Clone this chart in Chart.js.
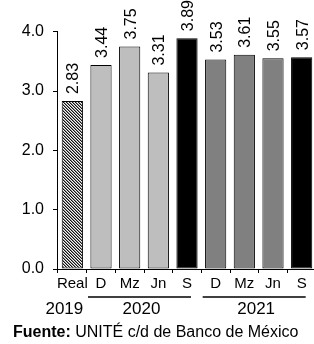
<!DOCTYPE html>
<html>
<head>
<meta charset="utf-8">
<script src="https://cdn.jsdelivr.net/npm/chart.js@4"></script>
<style>
html, body { margin: 0; padding: 0; overflow: hidden; background: #fff; }
</style>
</head>
<body>
<canvas id="chart" width="318" height="344"></canvas>
<script>
var categories = ['Real', 'D', 'Mz', 'Jn', 'S', 'D', 'Mz', 'Jn', 'S'];
var values = [2.83, 3.44, 3.75, 3.31, 3.89, 3.53, 3.61, 3.55, 3.57];
var years = ['2019', '2020', '2021'];
var yearFirst = [0, 1, 5];
var yearLast = [0, 4, 8];
var yTicks = [0, 1, 2, 3, 4];

var FONT = '"Liberation Sans", Arial, sans-serif';

// hatched fill for the 2019 bar
function makeHatch() {
    var c = document.createElement('canvas');
    c.width = 3; c.height = 3;
    var g = c.getContext('2d');
    g.fillStyle = '#f4f4f4';
    g.fillRect(0, 0, 3, 3);
    for (var y = 0; y < 3; y++) {
        for (var x = 0; x < 3; x++) {
            var d = (x - y + 6) % 3;
            if (d === 0) { g.fillStyle = '#111'; g.fillRect(x, y, 1, 1); }
            if (d === 1) { g.fillStyle = '#8a8a8a'; g.fillRect(x, y, 1, 1); }
        }
    }
    return document.getElementById('chart').getContext('2d').createPattern(c, 'repeat');
}

var barColors = [makeHatch(), '#bebebe', '#bebebe', '#bebebe', '#000000',
                 '#808080', '#808080', '#808080', '#000000'];

var extras = {
    id: 'extras',
    afterDraw: function (chart) {
        var ctx = chart.ctx;
        var xs = chart.scales.x, ys = chart.scales.y;
        ctx.save();
        // y axis line, 0 to 4
        ctx.strokeStyle = '#000';
        ctx.lineWidth = 1;
        ctx.beginPath();
        ctx.moveTo(xs.left - 0.5, ys.getPixelForValue(0));
        ctx.lineTo(xs.left - 0.5, ys.getPixelForValue(4));
        ctx.stroke();

        // value labels, rotated
        ctx.fillStyle = '#000';
        ctx.font = '16px ' + FONT;
        ctx.textAlign = 'left';
        ctx.textBaseline = 'alphabetic';
        var meta = chart.getDatasetMeta(0);
        meta.data.forEach(function (bar, i) {
            ctx.save();
            ctx.translate(bar.x + 6, bar.y - 7);
            ctx.rotate(-Math.PI / 2);
            ctx.fillText(values[i].toFixed(2), 0, 0);
            ctx.restore();
        });

        // year rows
        ctx.font = '17px ' + FONT;
        ctx.textAlign = 'center';
        ctx.textBaseline = 'middle';
        ctx.lineWidth = 1.5;
        for (var k = 0; k < years.length; k++) {
            var a = xs.getPixelForValue(yearFirst[k]);
            var b = xs.getPixelForValue(yearLast[k]);
            var cx;
            if (yearFirst[k] === yearLast[k]) {
                cx = a - 8;
            } else {
                var x0 = a - 13, x1 = b + 4;
                ctx.beginPath();
                ctx.moveTo(x0, 297);
                ctx.lineTo(x1, 297);
                ctx.stroke();
                cx = (x0 + x1) / 2 + 2;
            }
            ctx.fillText(years[k], cx, 309);
        }

        // source
        ctx.textAlign = 'left';
        ctx.font = 'bold 16px ' + FONT;
        ctx.fillText('Fuente:', 13, 333);
        var w = ctx.measureText('Fuente: ').width;
        ctx.font = '16px ' + FONT;
        ctx.fillText('UNITÉ c/d de Banco de México', 13 + w, 333);
        ctx.restore();
    }
};

new Chart(document.getElementById('chart'), {
    type: 'bar',
    data: {
        labels: categories,
        datasets: [{
            data: values,
            backgroundColor: barColors,
            borderColor: '#000',
            borderWidth: 1,
            borderSkipped: false,
            barPercentage: 0.74,
            categoryPercentage: 1
        }]
    },
    options: {
        responsive: false,
        animation: false,
        layout: { padding: { top: 2, right: 2, left: 0, bottom: 0 } },
        plugins: { legend: { display: false }, tooltip: { enabled: false } },
        scales: {
            x: {
                afterFit: function (s) { s.height = 75; s.paddingLeft = 0; s.paddingRight = 0; },
                grid: { offset: true, drawOnChartArea: false, tickLength: 4, color: '#000' },
                border: { display: true, color: '#000', width: 1 },
                ticks: { color: '#000', font: { family: FONT, size: 15 }, padding: 2, maxRotation: 0, autoSkip: false }
            },
            y: {
                min: 0,
                max: 4.5,
                afterFit: function (s) { s.width = 58; s.paddingTop = 0; s.paddingBottom = 0; },
                afterBuildTicks: function (s) { s.ticks = yTicks.map(function (v) { return { value: v }; }); },
                grid: { drawOnChartArea: false, tickLength: 5, color: '#000' },
                border: { display: false },
                ticks: {
                    color: '#000',
                    font: { family: FONT, size: 16 },
                    padding: 9,
                    callback: function (v) { return Number(v).toFixed(1); }
                }
            }
        }
    },
    plugins: [extras]
});
</script>
</body>
</html>
